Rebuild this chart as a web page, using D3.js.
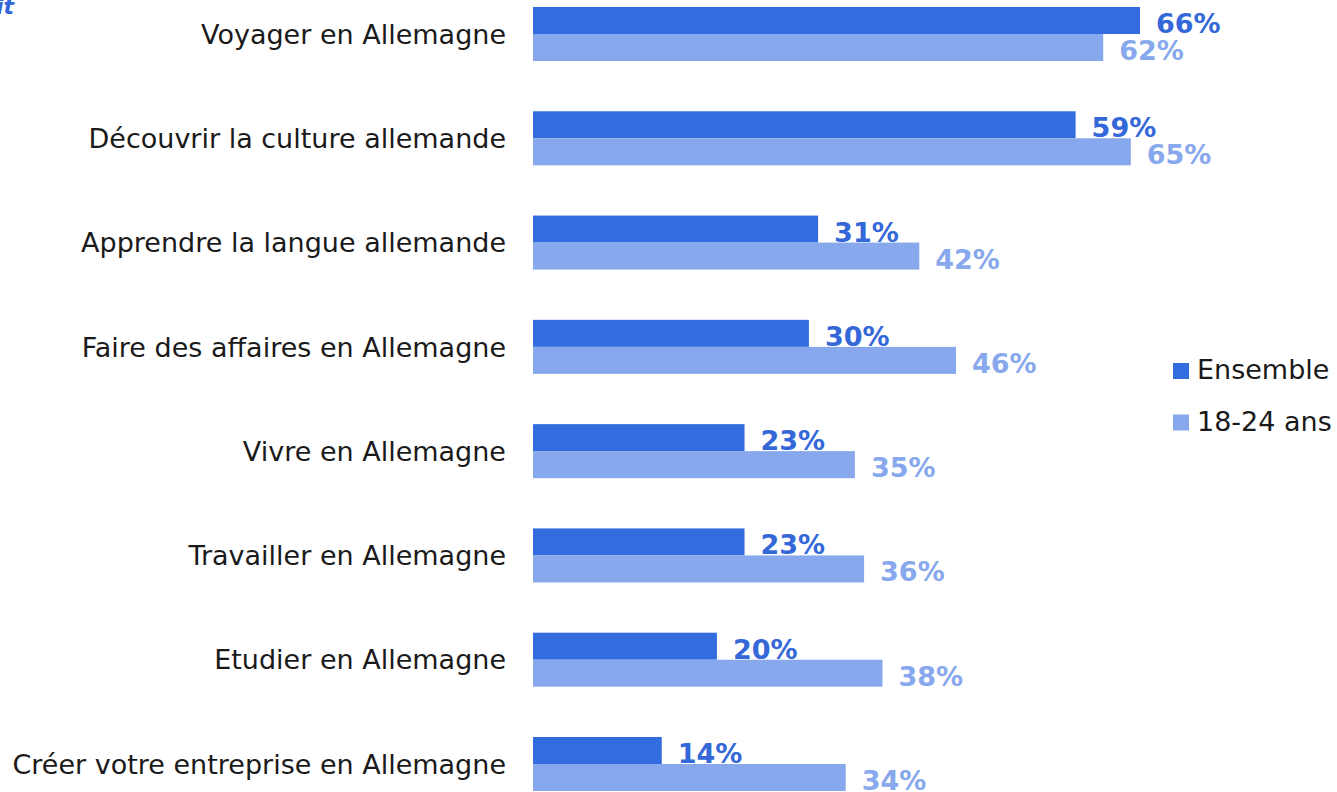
<!DOCTYPE html>
<html>
<head>
<meta charset="utf-8">
<script src="https://cdn.jsdelivr.net/npm/d3@7"></script>
<style>
  html, body { margin: 0; padding: 0; background: #ffffff; }
  svg { display: block; }
</style>
</head>
<body>
<div id="chart"></div>
<script>
const categories = [
  "Voyager en Allemagne",
  "Découvrir la culture allemande",
  "Apprendre la langue allemande",
  "Faire des affaires en Allemagne",
  "Vivre en Allemagne",
  "Travailler en Allemagne",
  "Etudier en Allemagne",
  "Créer votre entreprise en Allemagne"
];
const seriesNames = ["Ensemble", "18-24 ans"];
const ensemble = [66, 59, 31, 30, 23, 23, 20, 14];
const jeunes = [62, 65, 42, 46, 35, 36, 38, 34];
const colors = ["#336CDF", "#87A8EC"];

const W = 1337, H = 792;
const svg = d3.select("#chart").append("svg").attr("width", W).attr("height", H);

const x = d3.scaleLinear().domain([0, 100]).range([533, 533 + 919.7]);
const y = d3.scaleBand().domain(categories).range([7, 791]).paddingInner(0.482).paddingOuter(0);
const sub = d3.scaleBand().domain(seriesNames).range([0, y.bandwidth()]).padding(0);

const data = categories.map((c, i) => ({ cat: c, vals: [ensemble[i], jeunes[i]] }));

// Truncated title fragment at top-left (cut by the edge, as in the reference)
svg.append("text")
  .attr("x", 14).attr("y", 14)
  .attr("text-anchor", "end")
  .attr("font-family", "DejaVu Sans")
  .attr("font-weight", "bold")
  .attr("font-style", "italic")
  .attr("font-size", 22)
  .attr("fill", "#3366D6")
  .text("it");

const groups = svg.selectAll("g.grp").data(data).join("g")
  .attr("class", "grp")
  .attr("transform", d => `translate(0,${y(d.cat)})`);

groups.selectAll("rect").data(d => d.vals.map((v, k) => ({ v, k })))
  .join("rect")
  .attr("x", x(0))
  .attr("y", d => sub(seriesNames[d.k]))
  .attr("width", d => x(d.v) - x(0))
  .attr("height", sub.bandwidth())
  .attr("fill", d => colors[d.k]);

groups.selectAll("text.val").data(d => d.vals.map((v, k) => ({ v, k })))
  .join("text")
  .attr("class", "val")
  .attr("x", d => x(d.v) + 16)
  .attr("y", d => sub(seriesNames[d.k]) + sub.bandwidth() - 1)
  .attr("font-family", "DejaVu Sans")
  .attr("font-weight", "bold")
  .attr("font-size", 27)
  .attr("fill", d => d.k === 0 ? "#3467D8" : "#87A8EC")
  .text(d => d.v + "%");

// Category axis labels
groups.append("text")
  .attr("x", 506)
  .attr("y", y.bandwidth() / 2)
  .attr("dy", "0.36em")
  .attr("text-anchor", "end")
  .attr("font-family", "DejaVu Sans")
  .attr("font-size", 27)
  .attr("fill", "#1a1a1a")
  .text(d => d.cat);

// Legend
const legend = svg.append("g").attr("transform", "translate(1173,363)");
seriesNames.forEach((s, i) => {
  const g = legend.append("g").attr("transform", `translate(0,${i * 51.5})`);
  g.append("rect").attr("width", 16).attr("height", 16).attr("fill", colors[i]);
  g.append("text")
    .attr("x", 24).attr("y", 16)
    .attr("font-family", "DejaVu Sans")
    .attr("font-size", 27)
    .attr("fill", "#1a1a1a")
    .text(s);
});
</script>
</body>
</html>
